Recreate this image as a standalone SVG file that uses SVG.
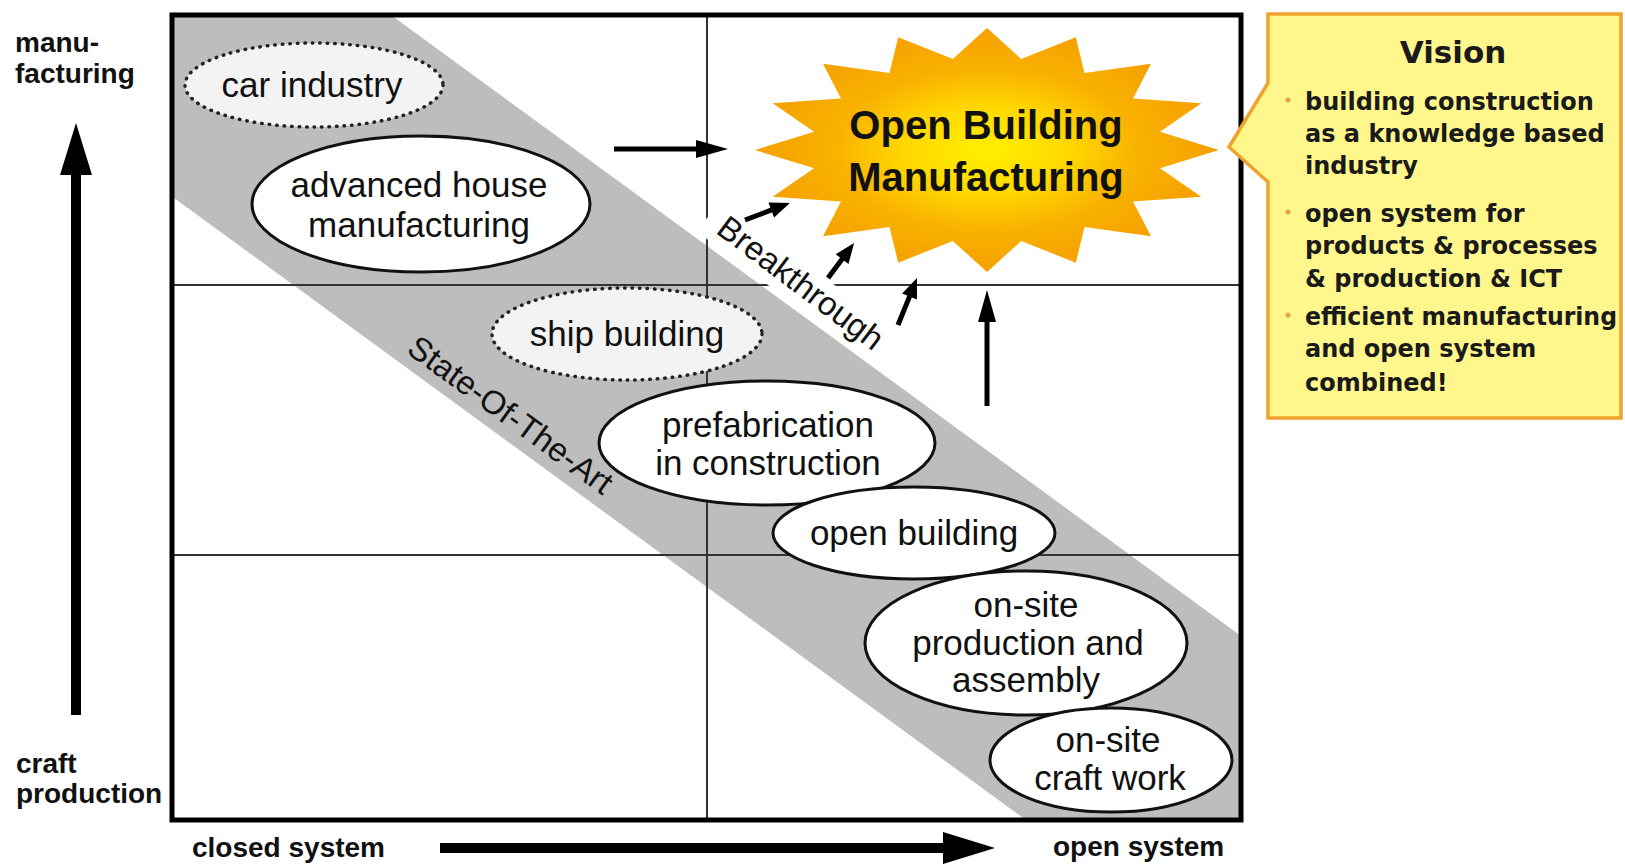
<svg xmlns="http://www.w3.org/2000/svg" width="1625" height="866" viewBox="0 0 1625 866">
  <defs>
    <style>
      .lbl { font-family: "Liberation Sans", Arial, sans-serif; font-size: 35px; fill: #111; text-anchor: middle; }
      .burst-text { font-family: "Liberation Sans", Arial, sans-serif; font-size: 40px; font-weight: bold; fill: #111; text-anchor: middle; }
      .axis { font-family: "Liberation Sans", Arial, sans-serif; font-size: 28px; font-weight: bold; fill: #111; }
      .diag { font-family: "Liberation Sans", Arial, sans-serif; font-size: 33px; fill: #111; text-anchor: middle; }
      .node { fill: #ffffff; stroke: #111; stroke-width: 3; }
      .dotted { fill: #f3f3f3; stroke: #222; stroke-width: 3.5; stroke-dasharray: 0.5 7; stroke-linecap: round; }
      .grid { stroke: #333; stroke-width: 2; }
      .conn { stroke: #000; stroke-width: 5; fill: none; }
      .axisline { stroke: #000; stroke-width: 10; fill: none; }
      .vis { font-family: "DejaVu Sans", Verdana, sans-serif; font-weight: bold; font-size: 24px; fill: #1a1a1a; }
      .vis-title { font-family: "DejaVu Sans", Verdana, sans-serif; font-weight: bold; font-size: 31px; fill: #1a1a1a; text-anchor: middle; }
      .bullet { fill: #e9a23b; }
    </style>
    <marker id="headSmall" markerUnits="userSpaceOnUse" markerWidth="20" markerHeight="16" refX="1" refY="8" orient="auto" overflow="visible">
      <path d="M0,0 L20,8 L0,16 Z" fill="#000"/>
    </marker>
    <marker id="headMid" markerUnits="userSpaceOnUse" markerWidth="32" markerHeight="18" refX="1" refY="9" orient="auto" overflow="visible">
      <path d="M0,0 L32,9 L0,18 Z" fill="#000"/>
    </marker>
    <marker id="headAxis" markerUnits="userSpaceOnUse" markerWidth="52" markerHeight="32" refX="1" refY="16" orient="auto" overflow="visible">
      <path d="M0,0 L52,16 L0,32 Z" fill="#000"/>
    </marker>
    <radialGradient id="burstFill" cx="50%" cy="50%" r="50%">
      <stop offset="0" stop-color="#fff000"/>
      <stop offset="0.35" stop-color="#ffd800"/>
      <stop offset="0.65" stop-color="#f9b200"/>
      <stop offset="1" stop-color="#f5a000"/>
    </radialGradient>
  </defs>

  <rect x="0" y="0" width="1625" height="866" fill="#ffffff"/>

  <!-- state-of-the-art band across the matrix -->
  <polygon id="band" points="172,15 391,15 1241,636 1241,820 1026,820 172,196.5" fill="#bdbdbd"/>

  <!-- quadrant grid -->
  <g id="grid">
    <line class="grid" x1="707" y1="15" x2="707" y2="820"/>
    <line class="grid" x1="172" y1="285" x2="1241" y2="285"/>
    <line class="grid" x1="172" y1="555" x2="1241" y2="555"/>
  </g>

  <rect id="frame" x="172" y="15" width="1069" height="805" fill="none" stroke="#000" stroke-width="5"/>

  <!-- axes -->
  <g id="axes">
    <line class="axisline" x1="76" y1="715" x2="76" y2="174" marker-end="url(#headAxis)"/>
    <line class="axisline" x1="440" y1="848" x2="944" y2="848" marker-end="url(#headAxis)"/>
    <text class="axis" x="15" y="52">manu-</text>
    <text class="axis" x="15" y="83">facturing</text>
    <text class="axis" x="16" y="773">craft</text>
    <text class="axis" x="16" y="803">production</text>
    <text class="axis" x="192" y="857">closed system</text>
    <text class="axis" x="1053" y="856">open system</text>
  </g>

  <g id="label-state-of-the-art">
    <text class="diag" x="504" y="424" transform="rotate(36 504 424)">State-Of-The-Art</text>
  </g>

  <g id="label-breakthrough">
    <rect x="680" y="262" width="228" height="40" fill="#ffffff" transform="rotate(37 794 292)"/>
    <text class="diag" x="794" y="292" transform="rotate(37 794 292)">Breakthrough</text>
  </g>

  <!-- nodes -->
  <g id="node-car-industry">
    <ellipse class="dotted" cx="314" cy="85" rx="129" ry="42"/>
    <text class="lbl" x="312" y="97">car industry</text>
  </g>
  <g id="node-advanced-house">
    <ellipse class="node" cx="421" cy="204" rx="169" ry="68"/>
    <text class="lbl" x="419" y="197">advanced house</text>
    <text class="lbl" x="419" y="237">manufacturing</text>
  </g>
  <g id="node-ship-building">
    <ellipse class="dotted" cx="627" cy="334" rx="135" ry="46"/>
    <text class="lbl" x="627" y="346">ship building</text>
  </g>
  <g id="node-prefabrication">
    <ellipse class="node" cx="767" cy="443" rx="168" ry="62"/>
    <text class="lbl" x="768" y="437">prefabrication</text>
    <text class="lbl" x="768" y="475">in construction</text>
  </g>
  <g id="node-open-building">
    <ellipse class="node" cx="914" cy="533" rx="141" ry="46"/>
    <text class="lbl" x="914" y="545">open building</text>
  </g>
  <g id="node-onsite-production">
    <ellipse class="node" cx="1026" cy="643" rx="161" ry="72"/>
    <text class="lbl" x="1026" y="617">on-site</text>
    <text class="lbl" x="1028" y="655">production and</text>
    <text class="lbl" x="1026" y="692">assembly</text>
  </g>
  <g id="node-onsite-craft">
    <ellipse class="node" cx="1111" cy="760" rx="121" ry="52"/>
    <text class="lbl" x="1108" y="752">on-site</text>
    <text class="lbl" x="1110" y="790">craft work</text>
  </g>

  <g id="node-open-building-manufacturing">
    <polygon fill="url(#burstFill)" points="1219,150 1160,131.8 1201.3,103.3 1133,98.5 1151,63.7 1084.5,73 1075.8,37.3 1021.2,59 987,28 952.8,59 898.2,37.3 889.5,73 823,63.7 841,98.5 772.7,103.3 814,131.8 755,150 814,168.2 772.7,196.7 841,201.5 823,236.3 889.5,227 898.2,262.7 952.8,241 987,272 1021.2,241 1075.8,262.7 1084.5,227 1151,236.3 1133,201.5 1201.3,196.7 1160,168.2"/>
    <text class="burst-text" x="986" y="139">Open Building</text>
    <text class="burst-text" x="986" y="191">Manufacturing</text>
  </g>

  <g id="node-vision">
    <path d="M1268,14 H1621 V418 H1268 V182 L1229,147 L1268,83 Z" fill="#fff78c" stroke="#f0a22e" stroke-width="3.5" stroke-linejoin="miter"/>
    <text class="vis-title" x="1453" y="63">Vision</text>
    <circle class="bullet" cx="1288" cy="100" r="2.5"/>
    <text class="vis" x="1305" y="110">building construction</text>
    <text class="vis" x="1305" y="142">as a knowledge based</text>
    <text class="vis" x="1305" y="174">industry</text>
    <circle class="bullet" cx="1288" cy="212" r="2.5"/>
    <text class="vis" x="1305" y="222">open system for</text>
    <text class="vis" x="1305" y="254">products &amp; processes</text>
    <text class="vis" x="1305" y="287">&amp; production &amp; ICT</text>
    <circle class="bullet" cx="1288" cy="315" r="2.5"/>
    <text class="vis" x="1305" y="325" textLength="312" lengthAdjust="spacingAndGlyphs">efficient manufacturing</text>
    <text class="vis" x="1305" y="357">and open system</text>
    <text class="vis" x="1305" y="391">combined!</text>
  </g>

  <!-- connectors -->
  <g id="connectors">
    <line class="conn" x1="614" y1="149" x2="697" y2="149" marker-end="url(#headMid)"/>
    <line class="conn" x1="987" y1="406" x2="987" y2="321" marker-end="url(#headMid)"/>
    <line class="conn" x1="745" y1="220" x2="772.2" y2="209.7" marker-end="url(#headSmall)"/>
    <line class="conn" x1="828" y1="278" x2="842.7" y2="258.3" marker-end="url(#headSmall)"/>
    <line class="conn" x1="898" y1="325" x2="909.9" y2="295.6" marker-end="url(#headSmall)"/>
  </g>
</svg>
